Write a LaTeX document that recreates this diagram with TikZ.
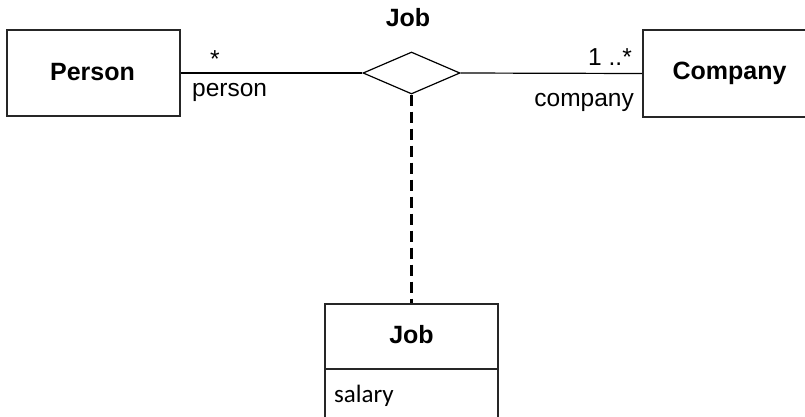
\documentclass[tikz,border=0pt]{standalone}
\usepackage{fontspec}
\setmainfont{Liberation Sans}
\newfontfamily\arialfont{Liberation Sans}
\newfontfamily\calibrifont{Carlito}
\usetikzlibrary{shapes.geometric}
\begin{document}
\begin{tikzpicture}[x=1pt,y=-1pt,
  umlbox/.style={draw=black!85,line width=1.6pt,inner sep=0pt,rectangle},
  conn/.style={draw=black,line width=1.2pt},
  lbl/.style={inner sep=0pt,anchor=base,font=\arialfont\fontsize{24.5}{28}\selectfont},
  blbl/.style={lbl,font=\arialfont\bfseries\fontsize{25}{28}\selectfont}]
\useasboundingbox (0,0) rectangle (805,416);
\clip (0,0) rectangle (805,416);
% boxes
\node[umlbox,minimum width=173pt,minimum height=86pt] (person) at (93.5,73) {};
\node[umlbox,minimum width=173pt,minimum height=87pt] (company) at (729.5,73.5) {};
\node[umlbox,minimum width=173pt,minimum height=130pt] (job) at (411.5,369) {};
\draw[draw=black!85,line width=1.6pt] (job.west |- 0,369) coordinate (divl) -- (job.east |- 0,369) coordinate (divr);
% diamond
\node[draw=black,line width=1.2pt,shape=diamond,inner sep=0pt,minimum width=97pt,minimum height=42pt] (dia) at (411.5,73) {};
% connectors
\draw[conn] (person.east) -- (dia.west);
\draw[conn] (dia.east) -- (company.west);
\draw[conn,line width=2.6pt,dash pattern=on 11pt off 6pt] (dia.south) -- (job.north);
% labels
\node[blbl] (jobtitle) at (408,26) {Job};
\node[blbl] (personlbl) at (92.5,80) {Person};
\node[blbl] (companylbl) at (729.5,79) {Company};
\node[blbl] (joblbl) at (411.5,343) {Job};
\node[lbl] (pmult) at (215,67) {*};
\node[lbl,anchor=base west] (prole) at (192,96) {person};
\node[lbl,anchor=base east] (cmult) at (632,65) {1 ..*};
\node[lbl,anchor=base east] (crole) at (634,106) {company};
\node[inner sep=0pt,anchor=base west,font=\calibrifont\fontsize{25}{30}\selectfont] (salary) at (334,402) {salary};
\end{tikzpicture}
\end{document}
